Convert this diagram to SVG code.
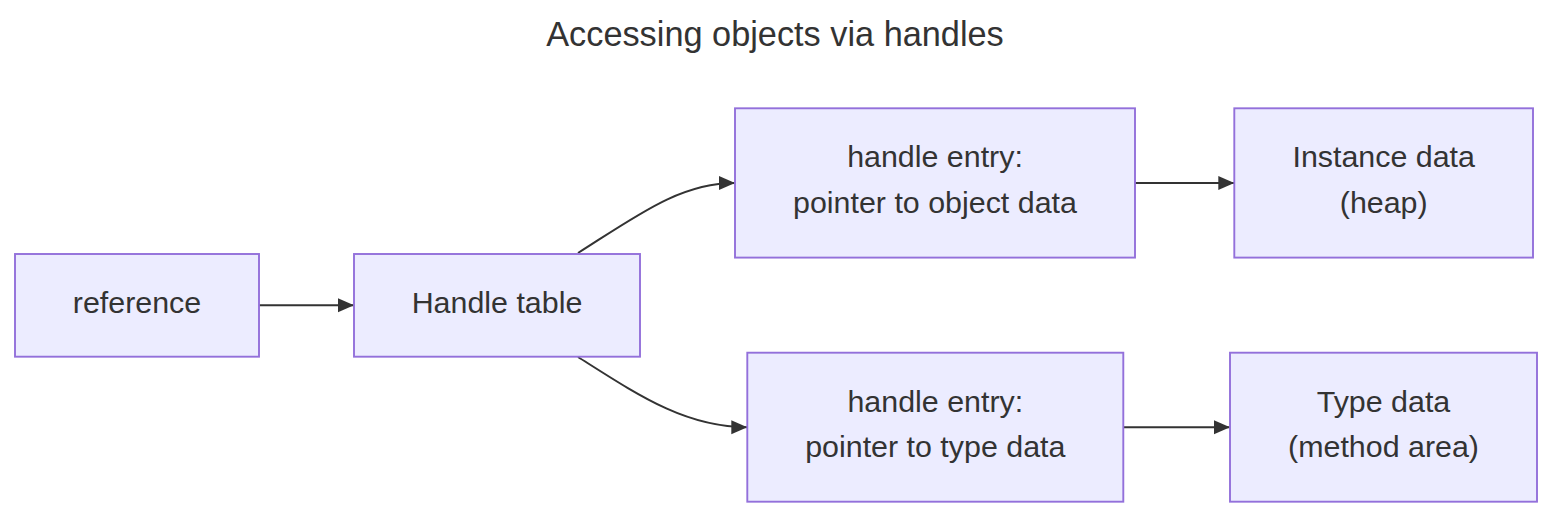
<svg xmlns="http://www.w3.org/2000/svg" width="1568" height="524" viewBox="0 0 1568 524">
<style>
.node rect{fill:#ECECFF;stroke:#9370DB;stroke-width:1.9}
.node text,.title{font-family:"Liberation Sans",Arial,sans-serif;fill:#333;text-anchor:middle}
.node text{font-size:30.4px}
.title{font-size:34.3px}
.edge{fill:none;stroke:#333;stroke-width:2}
</style>
<defs>
<marker id="arrow" markerUnits="userSpaceOnUse" markerWidth="17" markerHeight="15" refX="16" refY="7" orient="auto">
<path d="M0,0 L16,7 L0,14 z" fill="#333"/>
</marker>
</defs>
<rect width="1568" height="524" fill="#fff"/>
<text class="title" x="775" y="45.7">Accessing objects via handles</text>
<g id="connectors">
<path class="edge" d="M259,305.3 L354,305.3" marker-end="url(#arrow)"/>
<path class="edge" d="M578,253 C638,215 680,183 735,183" marker-end="url(#arrow)"/>
<path class="edge" d="M578,357 C638,395 685,427.2 747.3,427.2" marker-end="url(#arrow)"/>
<path class="edge" d="M1135,183 L1234.3,183" marker-end="url(#arrow)"/>
<path class="edge" d="M1123.3,427.2 L1230,427.2" marker-end="url(#arrow)"/>
</g>
<g id="reference" class="node">
<rect x="15" y="254" width="244" height="102.7"/>
<text x="137" y="312.8">reference</text>
</g>
<g id="handle-table" class="node">
<rect x="354" y="254" width="286" height="102.7"/>
<text x="497" y="312.8">Handle table</text>
</g>
<g id="entry-object" class="node">
<rect x="735" y="108.3" width="400" height="149.3"/>
<text x="935" y="167.3">handle entry:</text>
<text x="935" y="212.7">pointer to object data</text>
</g>
<g id="instance-data" class="node">
<rect x="1234.3" y="108.3" width="298.7" height="149.3"/>
<text x="1383.7" y="167.3">Instance data</text>
<text x="1383.7" y="212.7">(heap)</text>
</g>
<g id="entry-type" class="node">
<rect x="747.3" y="352.7" width="376" height="149"/>
<text x="935.3" y="411.5">handle entry:</text>
<text x="935.3" y="456.9">pointer to type data</text>
</g>
<g id="type-data" class="node">
<rect x="1230" y="352.7" width="307" height="149"/>
<text x="1383.5" y="411.5">Type data</text>
<text x="1383.5" y="456.9">(method area)</text>
</g>
</svg>
